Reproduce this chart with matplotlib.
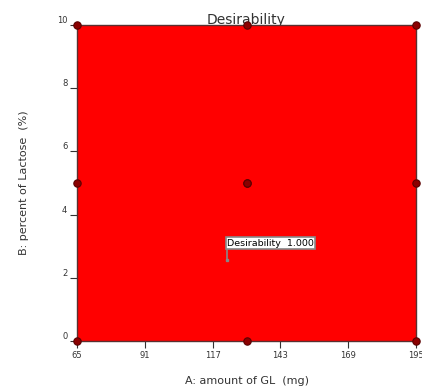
import matplotlib.pyplot as plt

# design points (A: amount of GL, B: percent of Lactose)
pts_a = [65, 130, 195, 65, 130, 195, 65, 130, 195]
pts_b = [0, 0, 0, 5, 5, 5, 10, 10, 10]
center_a = 130
center_b = 5

x_ticks = [65, 91, 117, 143, 169, 195]
y_ticks = [0, 2, 4, 6, 8, 10]

flag_a = 122.5
flag_b = 2.55
flag_top = 2.95
flag_text = 'Desirability  1.000'

fig = plt.figure(figsize=(4.22, 3.90), dpi=100)
ax = fig.add_axes([0.1825, 0.1256, 0.8033, 0.8103])

ax.axvspan(65, 195, color='#ff0000', zorder=0)
ax.set_xlim(65, 195)
ax.set_ylim(0, 10)

ax.scatter(pts_a, pts_b, s=28, color='#8b0000', edgecolor='#5a0000',
           linewidth=0.8, zorder=5, clip_on=False)
ax.scatter([center_a], [center_b], s=28, color='#8b0000', edgecolor='#5a0000',
           linewidth=0.8, zorder=5)

for s in ax.spines.values():
    s.set_color('#5a3030')
    s.set_linewidth(1.0)

ax.set_xticks(x_ticks)
ax.set_yticks(y_ticks)
ax.tick_params(axis='both', labelsize=6, length=5, width=0.8, color='#333333',
               labelcolor='#333333', direction='out', pad=2)
for lbl in ax.get_yticklabels():
    lbl.set_verticalalignment('bottom')

ax.set_xlabel('A: amount of GL  (mg)', fontsize=8, color='#333333', labelpad=12)
ax.set_ylabel('B: percent of Lactose  (%)', fontsize=8, color='#333333', labelpad=20)

fig.text(0.583, 0.939, 'Desirability', ha='center', va='baseline', fontsize=10,
         color='#333333', zorder=-1)

# flag annotation
ax.plot([flag_a, flag_a], [flag_b, flag_top], color='#888888', lw=1.2, zorder=6)
ax.plot([flag_a], [flag_b], marker='s', ms=2, color='#888888', zorder=6)
ax.text(flag_a, flag_top, flag_text, fontsize=6.8, color='black', ha='left',
        va='bottom', zorder=7,
        bbox=dict(boxstyle='square,pad=0.15', fc='white', ec='#888888', lw=1.2))

fig.savefig('out.png', dpi=100)
